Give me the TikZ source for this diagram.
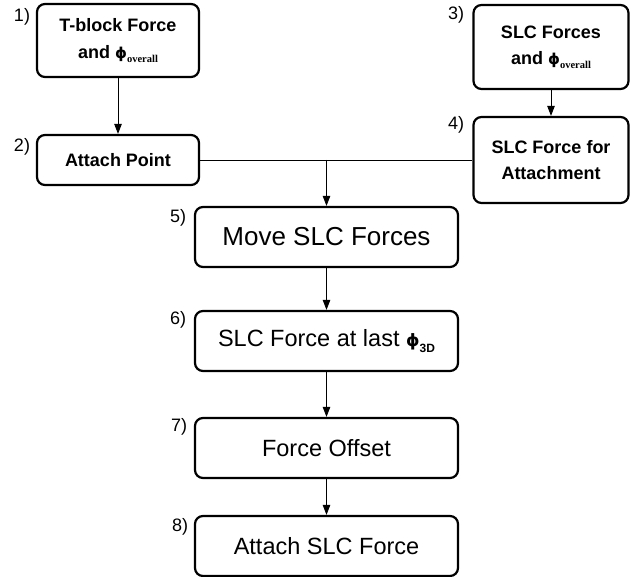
\documentclass[tikz,border=0pt]{standalone}
\usepackage{fontspec}
\setmainfont{Liberation Sans}
\newfontfamily\subserif{Liberation Serif}
\newfontfamily\phifont{DejaVu Sans}
\usetikzlibrary{arrows.meta}

% Greek phi with a serif "overall" subscript
\newcommand{\phisym}{{\phifont\bfseries\fontsize{15}{15}\selectfont ϕ}}
\newcommand{\overallsub}{\raisebox{-0.4ex}{\subserif\bfseries\fontsize{10.5}{10.5}\selectfont overall}}

\begin{document}
\begin{tikzpicture}[x=1pt,y=-1pt,
  stepbox/.style={draw, line width=2.2pt, rounded corners=8pt, inner sep=0pt, align=center},
  topbox/.style={stepbox, font=\fontsize{18}{26.5}\selectfont\bfseries},
  lowbox/.style={stepbox, minimum width=263pt, minimum height=60pt, font=\fontsize{23.5}{28}\selectfont},
  steplabel/.style={font=\fontsize{18}{18}\selectfont, inner sep=0pt},
  link/.style={line width=0.9pt},
  flow/.style={link, -{Triangle[length=10pt,width=7.5pt]}}
]
\useasboundingbox (0,0) rectangle (631,577);

% upper input boxes
\node[topbox, minimum width=162pt, minimum height=73pt] (tblock) at (118,40.5) {T-block Force\\and \phisym\overallsub};
\node[topbox, minimum width=162pt, minimum height=50pt] (attach) at (118,160) {Attach Point};
\node[topbox, minimum width=155pt, minimum height=84pt] (slcf) at (551,47) {SLC Forces\\and \phisym\overallsub};
\node[topbox, minimum width=155pt, minimum height=86pt] (slcatt) at (551,160) {SLC Force for\\Attachment};

% main chain
\node[lowbox, font=\fontsize{26}{30}\selectfont] (move) at (326.5,237) {Move SLC Forces};
\node[lowbox] (last) at (326.5,341) {SLC Force at last {\phifont\bfseries\fontsize{17}{17}\selectfont ϕ}\raisebox{-0.45ex}{\bfseries\fontsize{12}{12}\selectfont 3D}};
\node[lowbox] (offset) at (326.5,448) {Force Offset};
\node[lowbox] (attslc) at (326.5,546) {Attach SLC Force};

% step numbers
\node[steplabel] (n1) at (22,17) {1)};
\node[steplabel] (n2) at (22,147) {2)};
\node[steplabel] (n3) at (456,15) {3)};
\node[steplabel] (n4) at (456,125) {4)};
\node[steplabel] (n5) at (178,218) {5)};
\node[steplabel] (n6) at (178,320) {6)};
\node[steplabel] (n7) at (179,427) {7)};
\node[steplabel] (n8) at (180,527) {8)};

% connectors
\draw[flow] (tblock) -- (attach);
\draw[flow] (slcf) -- (slcatt);
\draw[link] (attach.east) -- (slcatt.west);
\coordinate (join) at (move.north |- attach.east);
\draw[flow] (join) -- (move);
\draw[flow] (move) -- (last);
\draw[flow] (last) -- (offset);
\draw[flow] (offset) -- (attslc);
\end{tikzpicture}
\end{document}
